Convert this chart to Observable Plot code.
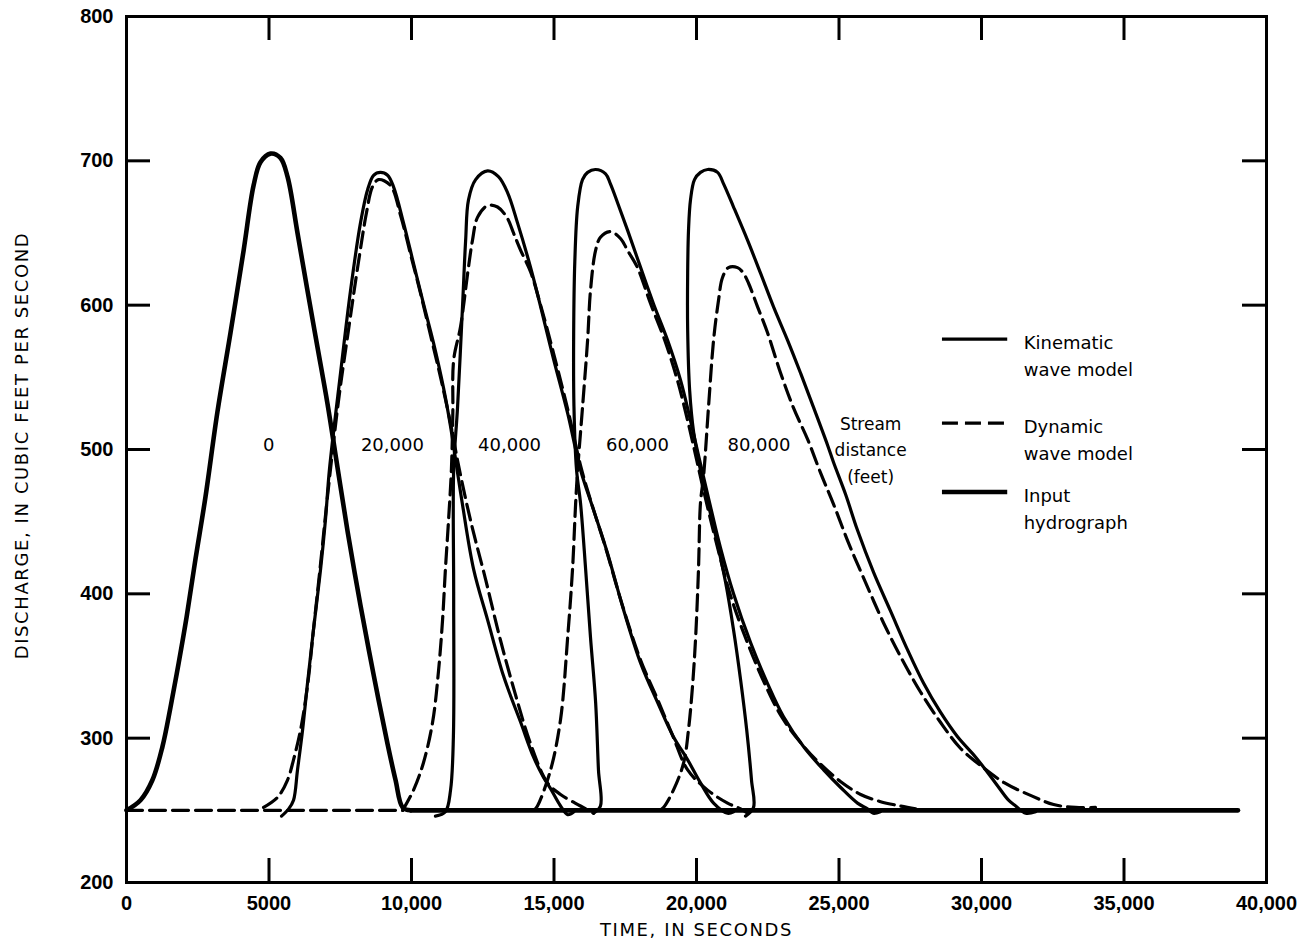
<!DOCTYPE html>
<html>
<head>
<meta charset="utf-8">
<script src="https://cdn.jsdelivr.net/npm/d3@7"></script>
<script src="https://cdn.jsdelivr.net/npm/@observablehq/plot@0.6"></script>
<style>
  html, body { margin: 0; padding: 0; background: #fff; }
  #chart svg { display: block; }
</style>
</head>
<body>
<div id="chart"></div>
<script>
// ---- Data: [time (s), discharge (cfs)] ----
const inputHydrograph = [
  [0,250],[490,257],[910,271],[1260,294],[1540,321],[1830,352],[2110,384],[2420,424],[2770,467],
  [3190,526],[3650,581],[4110,638],[4460,683],[4700,699],[5050,705],[5400,702],[5650,689],[6000,650],
  [6350,610],[6700,571],[7050,532],[7400,488],[7760,443],[8210,392],[8670,344],[9160,296],[9440,271],
  [9690,252],[9970,250]
];
// base flow of the input hydrograph after the wave has passed
const inputBaseflow = [[9970,250],[39000,250]];
// base flow before the dynamic wave arrives (dashed)
const dynamicBaseflow = [[0,250],[9690,250]];

const kinematic20k = [
  [5440,246],[5690,251],[5860,257],[6000,278],[6180,306],[6350,338],[6560,375],[6810,417],[6980,451],
  [7120,486],[7510,553],[7860,610],[8210,657],[8460,680],[8670,690],[8910,692],[9160,690],[9370,682],
  [9720,657],[10070,629],[10420,601],[10770,574],[11120,543],[11370,516],[11600,486],[11780,463],
  [12180,417],[12670,382],[13230,343],[13830,311],[14280,287],[14630,273],[14880,265],[15230,253],
  [15480,247],[15700,249]
];

const kinematic40k = [
  [10840,246],[11190,249],[11370,264],[11470,301],[11480,400],[11480,486],[11615,529],[11790,599],
  [11900,645],[12000,673],[12250,687],[12670,693],[13050,689],[13370,678],[13720,657],[14180,626],
  [14530,599],[14980,563],[15480,525],[15930,486],[16390,458],[16880,428],[17440,389],[18040,352],
  [18630,325],[19190,301],[19690,285],[20140,269],[20600,255],[21090,248],[21300,249]
];

const kinematic60k = [
  [16390,248],[16630,253],[16560,278],[16460,325],[16280,370],[16110,417],[15930,463],[15790,486],
  [15700,530],[15690,580],[15730,630],[15830,668],[16000,687],[16180,692],[16460,694],[16810,691],
  [16980,684],[17230,671],[17580,652],[18040,626],[18490,601],[18980,576],[19440,548],[19790,520],
  [20070,496],[20390,469],[20840,432],[21300,400],[21900,366],[22490,338],[23050,315],[23760,294],
  [24460,278],[25050,266],[25650,255],[26000,251],[26200,248],[26450,249]
];

const kinematic80k = [
  [21720,246],[22000,252],[21930,271],[21760,306],[21550,340],[21300,375],[21020,408],[20630,444],
  [20210,479],[19900,512],[19760,541],[19690,583],[19690,622],[19720,652],[19790,673],[19930,687],
  [20140,692],[20390,694],[20740,692],[20950,684],[21300,668],[21790,645],[22250,622],[22700,599],
  [23190,576],[23650,553],[24110,529],[24600,503],[24810,491],[25230,469],[25650,444],[26210,415],
  [26810,388],[27410,361],[27970,338],[28560,318],[29160,301],[29790,287],[30490,269],[30950,257],
  [31200,253],[31550,248],[31900,249]
];

const dynamic20k = [
  [4810,252],[5300,259],[5650,271],[5860,285],[6110,306],[6350,336],[6560,375],[6810,421],[7050,467],
  [7440,534],[7790,583],[8140,630],[8420,664],[8630,682],[8840,687],[9260,683],[9620,662],[9970,635],
  [10320,608],[10670,579],[11020,550],[11370,518],[11650,489],[12070,451],[12600,410],[13120,368],
  [13650,330],[14180,296],[14770,269],[15230,261],[15930,253],[16390,248]
];

const dynamic40k = [
  [9690,250],[10070,264],[10420,283],[10740,311],[10950,347],[11090,382],[11190,417],
  [11300,451],[11400,486],[11450,525],[11480,562],[11720,585],[11970,622],[12140,645],[12320,661],
  [12670,669],[13020,668],[13370,660],[13580,650],[13830,638],[14180,623],[14530,600],[14980,567],
  [15480,528],[15930,489],[16280,465],[16810,432],[17400,392],[18040,354],[18630,327],[19160,302],
  [19690,278],[20390,264],[21090,255],[21550,251],[21790,248]
];

const dynamic60k = [
  [14300,250],[14420,253],[14880,278],[15230,313],[15480,370],[15650,417],[15760,463],[15830,486],
  [16000,529],[16180,576],[16280,610],[16460,638],[16630,647],[16980,651],[17340,646],[17580,638],
  [17930,626],[18390,601],[18880,576],[19330,548],[19690,520],[19970,496],[20280,469],[20740,432],
  [21190,399],[21790,366],[22390,338],[22980,315],[23690,296],[24350,282],[25050,270],[25760,261],
  [26460,256],[27160,253],[27690,251]
];

const dynamic80k = [
  [18700,250],[18840,252],[19190,264],[19550,283],[19720,306],[19860,336],[19970,370],[20070,417],
  [20140,463],[20250,482],[20420,529],[20600,576],[20770,603],[20910,619],[21120,626],[21440,626],
  [21650,622],[21830,615],[22140,599],[22490,581],[22950,553],[23400,529],[23900,507],[24350,484],
  [24810,462],[25340,435],[25930,408],[26560,380],[27230,354],[27860,332],[28560,311],[29260,293],
  [29970,281],[30810,269],[31760,260],[32530,254],[33300,252],[34000,252]
];

// ---- Axis ticks and labels ----
const xTicks = [0, 5000, 10000, 15000, 20000, 25000, 30000, 35000, 40000];
const xTickLabels = ["0", "5000", "10,000", "15,000", "20,000", "25,000", "30,000", "35,000", "40,000"];
const yTicks = [200, 300, 400, 500, 600, 700, 800];
const xLabel = "TIME, IN SECONDS";
const yLabel = "DISCHARGE, IN CUBIC FEET PER SECOND";

// ---- In-plot annotations (positions in data units) ----
const stationNames = ["0", "20,000", "40,000", "60,000", "80,000"];
const stationTimes = [4990, 9330, 13440, 17930, 22190];
const stationQ = 503;
const streamLabel = "Stream\ndistance\n(feet)";
const streamLabelPos = [26110, 501];

const legendNames = ["Kinematic\nwave model", "Dynamic\nwave model", "Input\nhydrograph"];
const legendQ = [576.5, 518.3, 470.6];
const legendLineX = [28630, 30920];
const legendTextX = 31480;

// ---- Build tables ----
const toRows = (arr, series) => arr.map(([t, q]) => ({t, q, series}));
const kinematicRows = [
  ...toRows(kinematic20k, "k20"), ...toRows(kinematic40k, "k40"),
  ...toRows(kinematic60k, "k60"), ...toRows(kinematic80k, "k80")
];
const dynamicRows = [
  ...toRows(dynamic20k, "d20"), ...toRows(dynamic40k, "d40"),
  ...toRows(dynamic60k, "d60"), ...toRows(dynamic80k, "d80")
];
const inputRows = toRows(inputHydrograph, "input");
const stationRows = stationNames.map((name, i) => ({name, t: stationTimes[i], q: stationQ}));
const legendRows = legendNames.map((name, i) => ({name, q: legendQ[i]}));

const W = 1299, H = 950, mL = 126, mR = 33, mT = 16, mB = 68;
const innerW = W - mL - mR, innerH = H - mT - mB;
const tickLen = 24;
const DASH = "16,7";
const inner = xTicks.slice(1, -1);
const innerY = yTicks.slice(1, -1);
const tickFont = "'Liberation Sans', Arial, sans-serif";

const chart = Plot.plot({
  width: W,
  height: H,
  marginLeft: mL,
  marginRight: mR,
  marginTop: mT,
  marginBottom: mB,
  style: {fontFamily: "'DejaVu Sans', sans-serif", fontSize: "18px", color: "#000", background: "#fff", overflow: "visible"},
  x: {domain: [0, 40000]},
  y: {domain: [200, 800]},
  marks: [
    // inward ticks on all four sides
    Plot.tickX(inner, {x: d => d, insetTop: innerH - tickLen, strokeWidth: 3, stroke: "#000"}),
    Plot.tickX(inner, {x: d => d, insetBottom: innerH - tickLen, strokeWidth: 3, stroke: "#000"}),
    Plot.tickY(innerY, {y: d => d, insetRight: innerW - tickLen, strokeWidth: 3, stroke: "#000"}),
    Plot.tickY(innerY, {y: d => d, insetLeft: innerW - tickLen, strokeWidth: 3, stroke: "#000"}),
    Plot.frame({stroke: "#000", strokeWidth: 3}),
    Plot.axisX({ticks: xTicks, tickSize: 0, tickPadding: 13, label: null, fontSize: 20,
      fontWeight: "bold", fontFamily: tickFont,
      tickFormat: d => xTickLabels[xTicks.indexOf(d)]}),
    Plot.axisY({ticks: yTicks, tickSize: 0, tickPadding: 13, label: null, fontSize: 20,
      fontWeight: "bold", fontFamily: tickFont, tickFormat: d => String(d)}),
    Plot.text([xLabel], {text: d => d, frameAnchor: "bottom", textAnchor: "middle", dy: 53, fontSize: 18}),
    Plot.text([yLabel], {text: d => d, frameAnchor: "left", textAnchor: "middle", rotate: -90,
      dx: -104, dy: -4, fontSize: 18}),

    // base flow segments (straight)
    Plot.line(dynamicBaseflow, {x: d => d[0], y: d => d[1], stroke: "#000", strokeWidth: 3.2, strokeDasharray: DASH}),
    Plot.line(inputBaseflow, {x: d => d[0], y: d => d[1], stroke: "#000", strokeWidth: 4.6}),

    // curves
    Plot.line(dynamicRows, {x: "t", y: "q", z: "series", curve: "catmull-rom", stroke: "#000",
      strokeWidth: 3.2, strokeDasharray: DASH}),
    Plot.line(kinematicRows, {x: "t", y: "q", z: "series", curve: "catmull-rom", stroke: "#000",
      strokeWidth: 3.2}),
    Plot.line(inputRows, {x: "t", y: "q", z: "series", curve: "catmull-rom", stroke: "#000",
      strokeWidth: 4.6}),

    // station labels
    Plot.text(stationRows, {x: "t", y: "q", text: "name", fontSize: 18}),
    Plot.text([streamLabel], {x: () => streamLabelPos[0], y: () => streamLabelPos[1], text: d => d,
      fontSize: 17, lineHeight: 1.55}),

    // legend
    Plot.ruleY([legendRows[0]], {y: "q", x1: legendLineX[0], x2: legendLineX[1], strokeWidth: 3.2}),
    Plot.ruleY([legendRows[1]], {y: "q", x1: legendLineX[0], x2: legendLineX[1], strokeWidth: 3.2, strokeDasharray: DASH}),
    Plot.ruleY([legendRows[2]], {y: "q", x1: legendLineX[0], x2: legendLineX[1], strokeWidth: 4.6}),
    Plot.text(legendRows, {x: () => legendTextX, y: "q", text: "name", textAnchor: "start",
      lineAnchor: "top", lineHeight: 1.5, dy: -9, fontSize: 18})
  ]
});

document.getElementById("chart").appendChild(chart);

// letter spacing for the axis titles (matches the wide lettering of the original)
d3.select(chart).selectAll("text")
  .filter(function() { return this.textContent === yLabel || this.textContent === xLabel; })
  .attr("letter-spacing", "1.6px");
</script>
</body>
</html>
